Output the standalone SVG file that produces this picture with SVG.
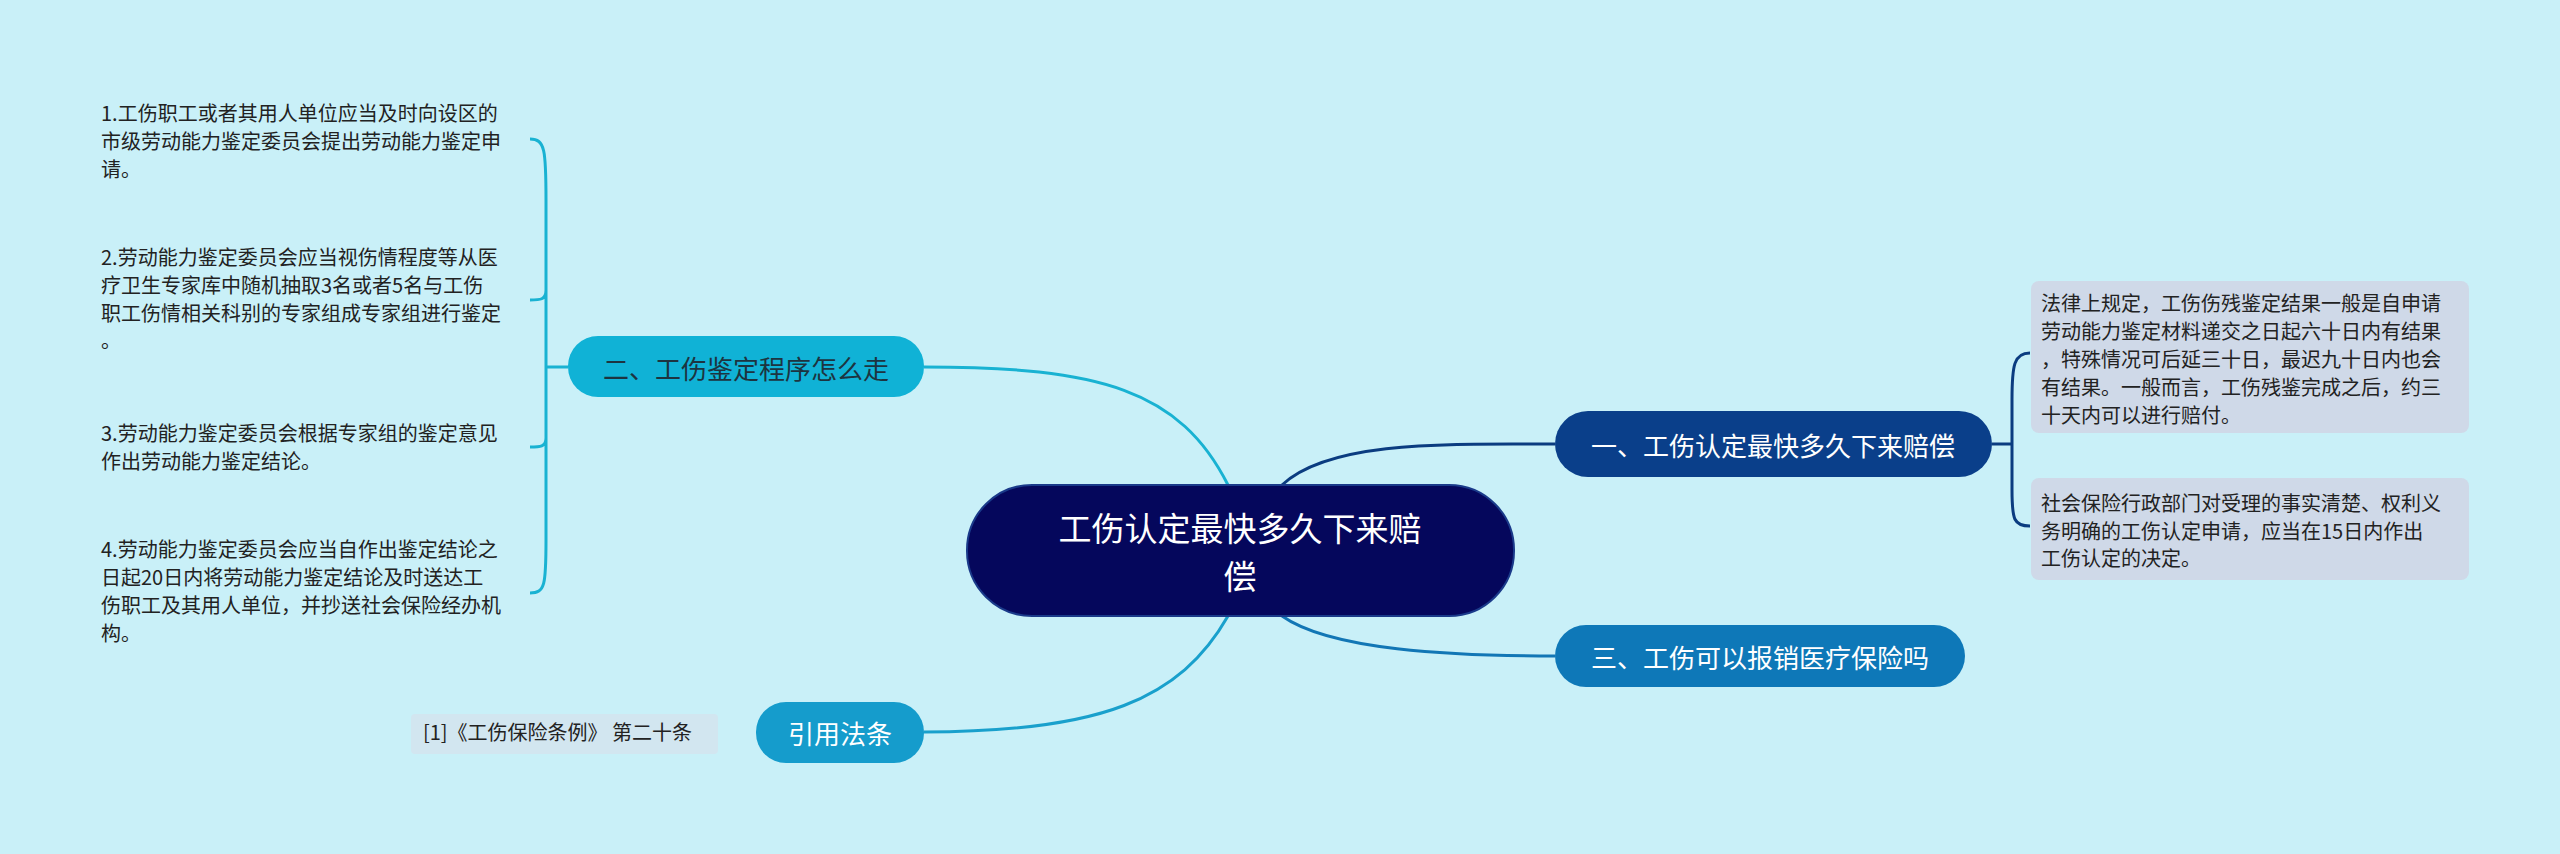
<svg xmlns="http://www.w3.org/2000/svg" width="2560" height="854" viewBox="0 0 2560 854">
<style>
text{font-family:"Noto Sans CJK SC","Liberation Sans",sans-serif}
.leaf{font-size:20px;fill:#222}
.nt{font-size:26px;fill:#fff;text-anchor:middle;dominant-baseline:central}
.c{fill:none;stroke-width:3}
</style>
<rect width="2560" height="854" fill="#c9f0f8"/>
<g id="connectors">
<path class="c" stroke="#19b2d2" d="M1228,485 C1180,390 1100,367 924,367"/>
<path class="c" stroke="#19a0cc" d="M1228,616 C1180,700 1100,732 924,732"/>
<path class="c" stroke="#0b3c80" d="M1282,485 C1330,440 1450,444 1555,444"/>
<path class="c" stroke="#1276b5" d="M1282,616 C1330,650 1450,656 1555,656"/>
<path class="c" stroke="#19b2d2" d="M568,367 H546 M530,139 C545,139 546,150 546,200 V540 C546,585 545,593 530,593 M546,290 C546,300 540,300 530,300 M546,438 C546,447 540,447 530,447"/>
<path class="c" stroke="#0b3c80" d="M1992,444 H2012 M2030,353 C2014,353 2012,365 2012,400 V490 C2012,520 2014,526 2030,526"/>
</g>
<g id="center"><rect x="967" y="485" width="547" height="131" rx="65" fill="#05075c" stroke="#1a3a8a" stroke-width="2"/>
<text class="nt" x="1240" y="527" style="font-size:33px">工伤认定最快多久下来赔</text>
<text class="nt" x="1240" y="575" style="font-size:33px">偿</text></g>
<g id="n1"><rect x="1555" y="411" width="437" height="66" rx="33" fill="#0a3f8a"/><text class="nt" x="1773" y="444">一、工伤认定最快多久下来赔偿</text></g>
<g id="n3"><rect x="1555" y="625" width="410" height="62" rx="31" fill="#0e78b8"/><text class="nt" x="1760" y="656">三、工伤可以报销医疗保险吗</text></g>
<g id="n2"><rect x="568" y="336" width="356" height="61" rx="30" fill="#10b2d6"/><text class="nt" x="746" y="367" style="fill:#1d3440">二、工伤鉴定程序怎么走</text></g>
<g id="nref"><rect x="756" y="702" width="168" height="61" rx="30" fill="#159ccc"/><text class="nt" x="840" y="732">引用法条</text></g>
<g id="ref"><rect x="411" y="714" width="307" height="40" rx="4" fill="#d2e6f0"/><text class="leaf" x="423" y="740">[1]《工伤保险条例》 第二十条</text></g>
<g id="b1"><rect x="2031" y="281" width="438" height="152" rx="8" fill="#cfd9e8"/>
<text class="leaf" x="2041" y="311">法律上规定，工伤伤残鉴定结果一般是自申请</text>
<text class="leaf" x="2041" y="339">劳动能力鉴定材料递交之日起六十日内有结果</text>
<text class="leaf" x="2041" y="367">，特殊情况可后延三十日，最迟九十日内也会</text>
<text class="leaf" x="2041" y="395">有结果。一般而言，工伤残鉴完成之后，约三</text>
<text class="leaf" x="2041" y="423">十天内可以进行赔付。</text></g>
<g id="b2"><rect x="2031" y="478" width="438" height="102" rx="8" fill="#cfd9e8"/>
<text class="leaf" x="2041" y="511">社会保险行政部门对受理的事实清楚、权利义</text>
<text class="leaf" x="2041" y="539">务明确的工伤认定申请，应当在15日内作出</text>
<text class="leaf" x="2041" y="566">工伤认定的决定。</text></g>
<g id="l1"><text class="leaf" x="101" y="121">1.工伤职工或者其用人单位应当及时向设区的</text>
<text class="leaf" x="101" y="149">市级劳动能力鉴定委员会提出劳动能力鉴定申</text>
<text class="leaf" x="101" y="177">请。</text></g>
<g id="l2"><text class="leaf" x="101" y="265">2.劳动能力鉴定委员会应当视伤情程度等从医</text>
<text class="leaf" x="101" y="293">疗卫生专家库中随机抽取3名或者5名与工伤</text>
<text class="leaf" x="101" y="321">职工伤情相关科别的专家组成专家组进行鉴定</text>
<text class="leaf" x="101" y="348">。</text></g>
<g id="l3"><text class="leaf" x="101" y="441">3.劳动能力鉴定委员会根据专家组的鉴定意见</text>
<text class="leaf" x="101" y="469">作出劳动能力鉴定结论。</text></g>
<g id="l4"><text class="leaf" x="101" y="557">4.劳动能力鉴定委员会应当自作出鉴定结论之</text>
<text class="leaf" x="101" y="585">日起20日内将劳动能力鉴定结论及时送达工</text>
<text class="leaf" x="101" y="613">伤职工及其用人单位，并抄送社会保险经办机</text>
<text class="leaf" x="101" y="641">构。</text></g>
</svg>
